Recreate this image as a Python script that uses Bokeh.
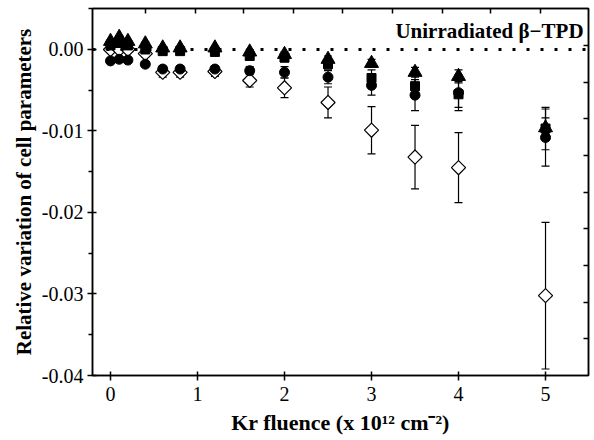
from bokeh.plotting import figure
from bokeh.models import (Range1d, LinearAxis, FixedTicker, Whisker, ColumnDataSource, Span, Label,
                          TeeHead, CustomJSTickFormatter)
from bokeh.embed import file_html
from bokeh.resources import INLINE

fluence = [0, 0.1, 0.2, 0.4, 0.6, 0.8, 1.2, 1.6, 2.0, 2.5, 3.0, 3.5, 4.0, 5.0]
tri = [0.0010, 0.0015, 0.0010, 0.0007, 0.0002, 0.0002, 0.0002, -0.0003, -0.0006, -0.0012, -0.0017, -0.0028, -0.0033, -0.0096]
tri_err = [0.0002, 0.0002, 0.0002, 0.0002, 0.0002, 0.0002, 0.0002, 0.0003, 0.0003, 0.0004, 0.0005, 0.0006, 0.0008, 0.0012]
sq = [0.0005, 0.0008, 0.0005, 0.0000, -0.0002, -0.0002, -0.0003, -0.0008, -0.0010, -0.0018, -0.0035, -0.0045, -0.0055, -0.0097]
sq_err = [0.0003, 0.0003, 0.0003, 0.0003, 0.0003, 0.0003, 0.0003, 0.0004, 0.0005, 0.0006, 0.0010, 0.0014, 0.0016, 0.0026]
circ = [-0.0014, -0.0012, -0.0013, -0.0018, -0.0024, -0.0024, -0.0024, -0.0026, -0.0028, -0.0034, -0.0044, -0.0056, -0.0053, -0.0108]
circ_err = [0.0003, 0.0003, 0.0003, 0.0003, 0.0004, 0.0004, 0.0004, 0.0005, 0.0007, 0.0008, 0.0012, 0.0019, 0.0022, 0.0035]
dia = [0.0000, 0.0000, 0.0000, -0.0005, -0.0028, -0.0028, -0.0027, -0.0038, -0.0047, -0.0065, -0.0099, -0.0132, -0.0145, -0.0302]
dia_err = [0.0003, 0.0003, 0.0003, 0.0004, 0.0006, 0.0006, 0.0006, 0.0008, 0.0012, 0.0019, 0.0029, 0.0039, 0.0043, 0.0090]

x_ticks = [0, 1, 2, 3, 4, 5]
y_ticks = [0.0, -0.01, -0.02, -0.03, -0.04]
y_minor = [0.005, -0.005, -0.015, -0.025, -0.035]
top_ticks = [0.402, 0.977, 1.529, 2.103, 2.667, 3.241, 3.816, 4.368, 4.943]
right_ticks = [0.0005, -0.0041, -0.0085, -0.0130, -0.0175, -0.0220, -0.0265, -0.0310, -0.0355]

FONT = "Liberation Serif"

p = figure(width=594, height=440, output_backend="svg", toolbar_location=None,
           x_range=Range1d(-0.207, 5.494), y_range=Range1d(-0.04, 0.00503),
           min_border_left=92, min_border_right=6, min_border_top=8, min_border_bottom=65)
p.grid.visible = False
p.outline_line_color = "black"
p.outline_line_width = 1.5
p.background_fill_color = "white"

xa = p.xaxis[0]
xa.ticker = FixedTicker(ticks=x_ticks)
xa.axis_label = "Kr fluence (x 10¹² cm⁻²)"
ya = p.yaxis[0]
ya.ticker = FixedTicker(ticks=y_ticks, minor_ticks=y_minor)
ya.axis_label = "Relative variation of cell parameters"
ya.formatter = CustomJSTickFormatter(code="return tick.toFixed(2);")
for ax in (xa, ya):
    ax.axis_line_width = 1.5
    ax.major_tick_line_width = 1.5
    ax.minor_tick_line_width = 1.5
    ax.major_tick_in = 4
    ax.major_tick_out = 5
    ax.minor_tick_in = 0
    ax.minor_tick_out = 4
    ax.major_label_text_font = FONT
    ax.major_label_text_font_size = "20px"
    ax.major_label_text_color = "black"
    ax.axis_label_text_font = FONT
    ax.axis_label_text_font_style = "bold"
    ax.axis_label_text_font_size = "21px"
    ax.axis_label_text_color = "black"
    ax.major_label_standoff = 4
    ax.axis_label_standoff = 3
xa.major_label_standoff = 6
xa.axis_label_standoff = 6
xa.axis_label_text_font_size = "22px"

blank = CustomJSTickFormatter(code="return '';")
top = LinearAxis(ticker=FixedTicker(ticks=top_ticks), formatter=blank,
                 major_tick_in=5, major_tick_out=0, minor_tick_in=0, minor_tick_out=0,
                 major_label_standoff=0, axis_line_width=1.5, major_tick_line_width=1.5)
p.add_layout(top, "above")
right = LinearAxis(ticker=FixedTicker(ticks=right_ticks), formatter=blank,
                   major_tick_in=5, major_tick_out=0, minor_tick_in=0, minor_tick_out=0,
                   major_label_standoff=0, axis_line_width=1.5, major_tick_line_width=1.5)
p.add_layout(right, "right")

p.add_layout(Span(location=0, dimension="width", line_color="black", line_width=3,
                  line_dash="3 11"))

series = [
    (dia, dia_err, "diamond"),
    (sq, sq_err, "square"),
    (circ, circ_err, "circle"),
    (tri, tri_err, "triangle"),
]
for vals, errs, kind in series:
    src = ColumnDataSource(dict(x=fluence, y=vals,
                                lo=[v - e for v, e in zip(vals, errs)],
                                hi=[v + e for v, e in zip(vals, errs)]))
    p.add_layout(Whisker(source=src, base="x", upper="hi", lower="lo", line_color="black", line_width=1.2,
                         upper_head=TeeHead(size=8, line_color="black", line_width=1.2),
                         lower_head=TeeHead(size=8, line_color="black", line_width=1.2)))
    if kind == "diamond":
        p.scatter("x", "y", source=src, marker="square", angle=0.7854, size=10,
                  fill_color="white", line_color="black", line_width=1.2)
    elif kind == "square":
        p.scatter("x", "y", source=src, marker="square", size=9, fill_color="black", line_color="black")
    elif kind == "circle":
        p.scatter("x", "y", source=src, marker="circle", size=10, fill_color="black", line_color="black")
    else:
        p.scatter("x", "y", source=src, marker="triangle", size=14, fill_color="black", line_color="black")

p.add_layout(Label(x=5.437, y=0.0008, text="Unirradiated β−TPD", text_align="right",
                   text_baseline="bottom", text_font=FONT, text_font_style="bold",
                   text_font_size="21px", text_color="black"))

open("out.html", "w").write(file_html(p, INLINE))
